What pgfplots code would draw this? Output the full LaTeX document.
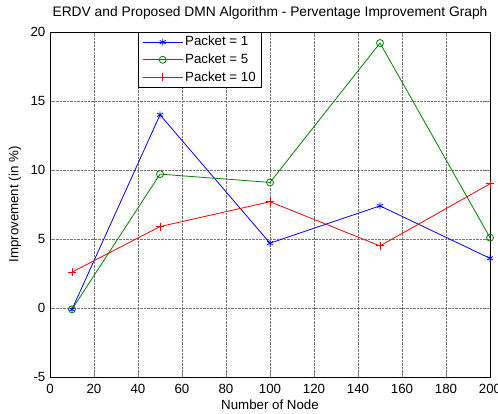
\documentclass[border=0pt]{standalone}
\usepackage{fontspec}
\setmainfont{Liberation Sans}
\usepackage{pgfplots}
\pgfplotsset{compat=1.18}
\definecolor{mgreen}{rgb}{0,0.5,0}
\begin{document}
\fontsize{13.3}{16}\selectfont
\begin{tikzpicture}
\begin{axis}[
    scale only axis,
    width=440pt, height=345pt,
    xmin=0, xmax=200, ymin=-5, ymax=20,
    xtick={0,20,...,200}, ytick={-5,0,...,20},
    tick align=inside,
    major tick length=4pt,
    grid=major,
    major grid style={black!55, densely dotted, line width=0.6pt},
    axis line style={line width=0.7pt},
    /pgf/number format/assume math mode=true,
    ticklabel style={font=\fontsize{13.3}{16}\selectfont},
    xticklabel style={yshift=-3pt},
    label style={font=\fontsize{13.3}{16}\selectfont},
    title style={font=\fontsize{13.8}{16}\selectfont,
        at={(0.5,1)}, anchor=center, yshift=13pt},
    title={ERDV and Proposed DMN Algorithm - Perventage Improvement Graph},
    xlabel={Number of Node},
    ylabel={Improvement (in \%)},
    xlabel style={at={(0.5,0)}, anchor=center, yshift=-28pt},
    ylabel style={at={(0,0.5)}, anchor=center, yshift=35pt},
    legend style={at={(0.2,1)}, anchor=north west, draw=black,
        line width=0.7pt,
        font=\fontsize{13.3}{16}\selectfont, row sep=2pt,
        inner xsep=4pt, inner ysep=2pt},
    legend image post style={line width=0.8pt},
    legend image code/.code={
        \draw[mark repeat=2,mark phase=2] plot coordinates {
            (0pt,0pt) (20pt,0pt) (40pt,0pt)};},
    legend cell align=left,
    every axis plot/.append style={line width=0.8pt},
]
\addplot[blue, mark=asterisk, mark size=3.5pt] coordinates {
    (10,-0.1) (50,14.0) (100,4.7) (150,7.4) (200,3.6)};
\addlegendentry{Packet = 1}
\addplot[mgreen, mark=o, mark size=3.5pt] coordinates {
    (10,-0.1) (50,9.7) (100,9.1) (150,19.2) (200,5.1)};
\addlegendentry{Packet = 5}
\addplot[red, mark=+, mark size=4pt] coordinates {
    (10,2.6) (50,5.9) (100,7.7) (150,4.5) (200,9.0)};
\addlegendentry{Packet = 10}
\end{axis}
\pgfresetboundingbox
\path[use as bounding box] ([xshift=-50pt,yshift=-37pt]current axis.south west)
    rectangle ([xshift=8pt,yshift=32pt]current axis.north east);
\end{tikzpicture}
\end{document}
